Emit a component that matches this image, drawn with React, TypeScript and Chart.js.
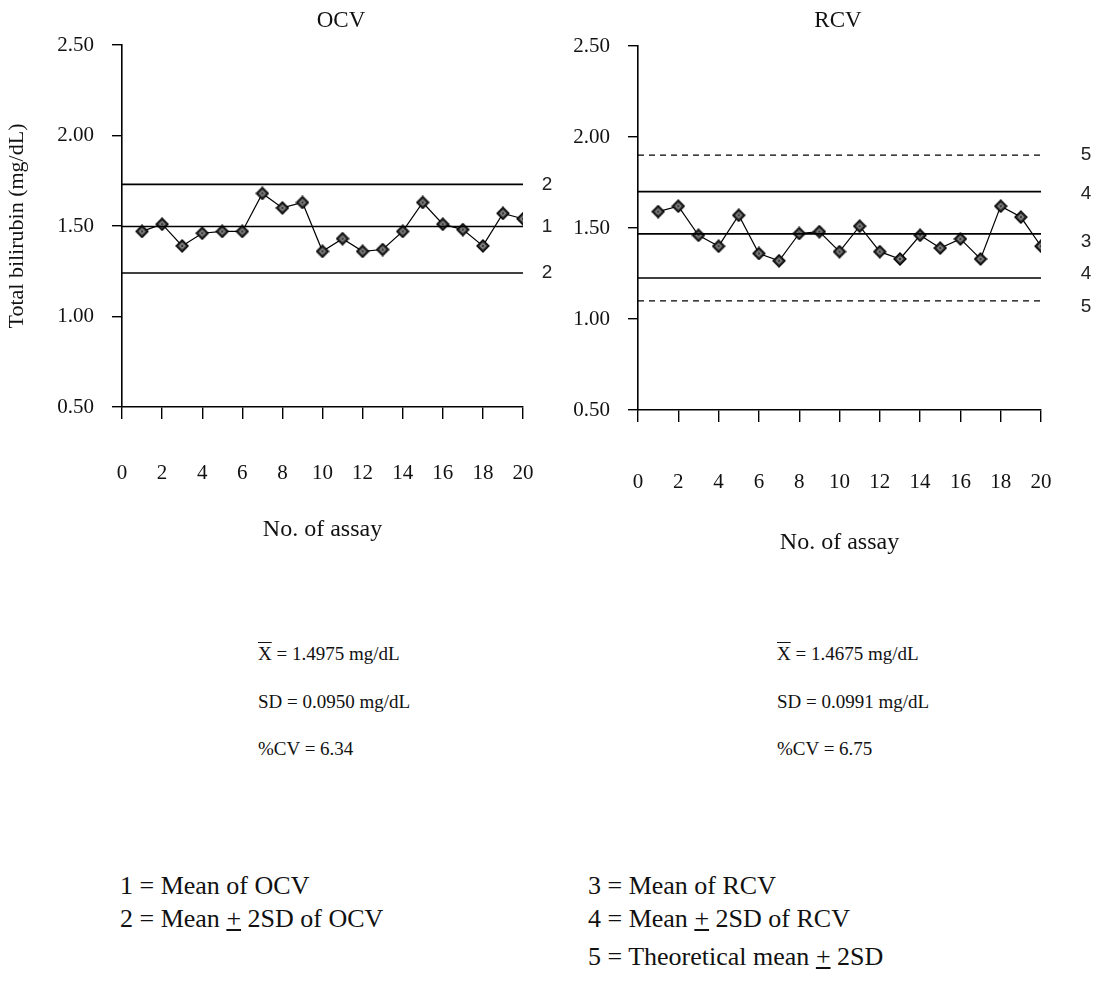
import { useEffect, useRef } from "react";
import { Chart, registerables } from "chart.js";

Chart.register(...registerables);

// ---- data ----
const assayNo = [1, 2, 3, 4, 5, 6, 7, 8, 9, 10, 11, 12, 13, 14, 15, 16, 17, 18, 19, 20];

const ocvValues = [1.47, 1.51, 1.39, 1.46, 1.47, 1.47, 1.68, 1.6, 1.63, 1.36, 1.43, 1.36, 1.37, 1.47, 1.63, 1.51, 1.48, 1.39, 1.57, 1.54];
const rcvValues = [1.59, 1.62, 1.46, 1.4, 1.57, 1.36, 1.32, 1.47, 1.48, 1.37, 1.51, 1.37, 1.33, 1.46, 1.39, 1.44, 1.33, 1.62, 1.56, 1.4];

// control lines: value, tag, dashed
const ocvLineValues = [1.73, 1.4975, 1.24];
const ocvLineTags = ["2", "1", "2"];
const ocvLineDashed = [false, false, false];

const rcvLineValues = [1.9, 1.7, 1.4675, 1.225, 1.1];
const rcvLineTags = ["5", "4", "3", "4", "5"];
const rcvLineDashed = [true, false, false, false, true];

const yMin = 0.5;
const yMax = 2.5;
const yStep = 0.5;
const xMin = 0;
const xMax = 20;
const xStep = 2;

const SERIF = '"Liberation Serif", "Times New Roman", serif';
const SANS = '"Liberation Sans", Arial, sans-serif';
const INK = "#111";

// diamond marker with a light inner pattern
function makeMarker(): HTMLCanvasElement {
  const c = document.createElement("canvas");
  c.width = 14;
  c.height = 14;
  const g = c.getContext("2d")!;
  const cx = 7, cy = 7, r = 6;
  g.beginPath();
  g.moveTo(cx, cy - r);
  g.lineTo(cx + r, cy);
  g.lineTo(cx, cy + r);
  g.lineTo(cx - r, cy);
  g.closePath();
  g.fillStyle = "#3a3a3a";
  g.fill();
  g.lineWidth = 1.3;
  g.strokeStyle = "#000";
  g.stroke();
  g.beginPath();
  g.moveTo(cx, cy - 2.5);
  g.lineTo(cx + 2.5, cy);
  g.lineTo(cx, cy + 2.5);
  g.lineTo(cx - 2.5, cy);
  g.closePath();
  g.strokeStyle = "#bdbdbd";
  g.lineWidth = 1;
  g.stroke();
  return c;
}

const lineTagPlugin = {
  id: "lineTags",
  afterDatasetsDraw(chart: any, _args: any, opts: any) {
    const { ctx, chartArea, scales } = chart;
    const values: number[] = opts.values || [];
    const tags: string[] = opts.tags || [];
    ctx.save();
    ctx.font = opts.font;
    ctx.fillStyle = opts.color;
    ctx.textAlign = "center";
    ctx.textBaseline = "middle";
    values.forEach((v, i) => {
      ctx.fillText(tags[i], chartArea.right + opts.offset, scales.y.getPixelForValue(v) + (opts.nudge?.[i] ?? 0));
    });
    ctx.restore();
  },
};

type PanelProps = {
  width: number;
  height: number;
  plotLeft: number;
  plotRight: number;
  plotTop: number;
  plotBottom: number;
  values: number[];
  lineValues: number[];
  lineTags: string[];
  lineDashed: boolean[];
  tagOffset: number;
  tagNudge?: number[];
  xTickPadding: number;
  xTitlePadding: number;
  yTitle?: string;
};

function ControlChart(p: PanelProps) {
  const ref = useRef<HTMLCanvasElement | null>(null);

  useEffect(() => {
    if (!ref.current) return;
    const marker = makeMarker();

    const limitSets = p.lineValues.map((v, i) => ({
      data: [
        { x: xMin, y: v },
        { x: xMax, y: v },
      ],
      borderColor: "#000",
      borderWidth: p.lineDashed[i] ? 1.2 : 1.6,
      borderDash: p.lineDashed[i] ? [6, 5] : [],
      pointRadius: 0,
      fill: false,
    }));

    const chart = new Chart(ref.current, {
      type: "line",
      data: {
        datasets: [
          ...limitSets,
          {
            data: assayNo.map((n, i) => ({ x: n, y: p.values[i] })),
            borderColor: "#000",
            borderWidth: 1.2,
            pointStyle: marker,
            pointRadius: 6,
            fill: false,
          },
        ] as any,
      },
      options: {
        responsive: false,
        animation: false,
        layout: {
          padding: {
            top: p.plotTop,
            right: p.width - p.plotRight,
            left: 0,
            bottom: 0,
          },
        },
        plugins: {
          legend: { display: false },
          tooltip: { enabled: false },
          lineTags: {
            values: p.lineValues,
            tags: p.lineTags,
            offset: p.tagOffset,
            nudge: p.tagNudge,
            font: `19px ${SANS}`,
            color: "#222",
          },
        } as any,
        scales: {
          x: {
            type: "linear",
            min: xMin,
            max: xMax,
            afterFit: (s: any) => {
              s.height = p.height - p.plotBottom;
            },
            ticks: {
              stepSize: xStep,
              autoSkip: false,
              maxRotation: 0,
              padding: p.xTickPadding,
              color: INK,
              font: { family: SERIF, size: 21 },
            },
            grid: {
              drawOnChartArea: false,
              drawTicks: true,
              tickLength: 12,
              color: "#000",
              lineWidth: 1.4,
            },
            border: { display: true, color: "#000", width: 1.6 },
            title: {
              display: true,
              text: "No. of assay",
              color: INK,
              font: { family: SERIF, size: 24 },
              padding: { top: 0, bottom: p.xTitlePadding },
            },
          },
          y: {
            type: "linear",
            min: yMin,
            max: yMax,
            afterFit: (s: any) => {
              s.width = p.plotLeft;
            },
            ticks: {
              stepSize: yStep,
              padding: 18,
              color: INK,
              font: { family: SERIF, size: 21 },
              callback: (v: any) => Number(v).toFixed(2),
            },
            grid: {
              drawOnChartArea: false,
              drawTicks: true,
              tickLength: 10,
              color: "#000",
              lineWidth: 1.4,
            },
            border: { display: true, color: "#000", width: 1.6 },
            title: {
              display: !!p.yTitle,
              text: p.yTitle || "",
              color: INK,
              font: { family: SERIF, size: 22 },
              padding: { top: 4, bottom: 0 },
            },
          },
        },
      },
      plugins: [lineTagPlugin],
    });

    return () => chart.destroy();
  }, []);

  return <canvas ref={ref} width={p.width} height={p.height} style={{ width: p.width, height: p.height, display: "block" }} />;
}

const abs = (left: number, top: number): React.CSSProperties => ({ position: "absolute", left, top, whiteSpace: "nowrap" });

function PlusMinus() {
  return <span style={{ textDecoration: "underline" }}>+</span>;
}

export default function App() {
  return (
    <div style={{ position: "absolute", left: 0, top: 0, width: 1104, height: 1007, background: "#fff", color: INK, fontFamily: SERIF, overflow: "hidden" }}>
      <div style={abs(0, 0)}>
        <ControlChart
          width={600}
          height={570}
          plotLeft={122}
          plotRight={523}
          plotTop={45}
          plotBottom={407}
          values={ocvValues}
          lineValues={ocvLineValues}
          lineTags={ocvLineTags}
          lineDashed={ocvLineDashed}
          tagOffset={24}
          xTickPadding={42}
          xTitlePadding={26}
          yTitle="Total bilirubin (mg/dL)"
        />
      </div>
      <div style={abs(560, 0)}>
        <ControlChart
          width={544}
          height={570}
          plotLeft={78}
          plotRight={481}
          plotTop={46}
          plotBottom={410}
          values={rcvValues}
          lineValues={rcvLineValues}
          lineTags={rcvLineTags}
          lineDashed={rcvLineDashed}
          tagOffset={45}
          tagNudge={[0, 2, 8, -4, 6]}
          xTickPadding={48}
          xTitlePadding={13}
        />
      </div>

      {/* panel headings */}
      <div style={{ ...abs(341, 20), transform: "translate(-50%, -50%)", fontSize: 23 }}>OCV</div>
      <div style={{ ...abs(838, 20), transform: "translate(-50%, -50%)", fontSize: 23 }}>RCV</div>

      {/* summary statistics */}
      <div style={{ ...abs(258, 643), fontSize: 19 }}>
        <span style={{ textDecoration: "overline" }}>X</span> = 1.4975 mg/dL
      </div>
      <div style={{ ...abs(258, 691), fontSize: 19 }}>SD = 0.0950 mg/dL</div>
      <div style={{ ...abs(258, 738), fontSize: 19 }}>%CV = 6.34</div>

      <div style={{ ...abs(777, 643), fontSize: 19 }}>
        <span style={{ textDecoration: "overline" }}>X</span> = 1.4675 mg/dL
      </div>
      <div style={{ ...abs(777, 691), fontSize: 19 }}>SD = 0.0991 mg/dL</div>
      <div style={{ ...abs(777, 738), fontSize: 19 }}>%CV = 6.75</div>

      {/* line key */}
      <div style={{ ...abs(120, 871), fontSize: 26 }}>1 = Mean of OCV</div>
      <div style={{ ...abs(120, 904), fontSize: 26 }}>
        2 = Mean <PlusMinus /> 2SD of OCV
      </div>
      <div style={{ ...abs(588, 871), fontSize: 26 }}>3 = Mean of RCV</div>
      <div style={{ ...abs(588, 904), fontSize: 26 }}>
        4 = Mean <PlusMinus /> 2SD of RCV
      </div>
      <div style={{ ...abs(588, 942), fontSize: 26 }}>
        5 = Theoretical mean <PlusMinus /> 2SD
      </div>
    </div>
  );
}
